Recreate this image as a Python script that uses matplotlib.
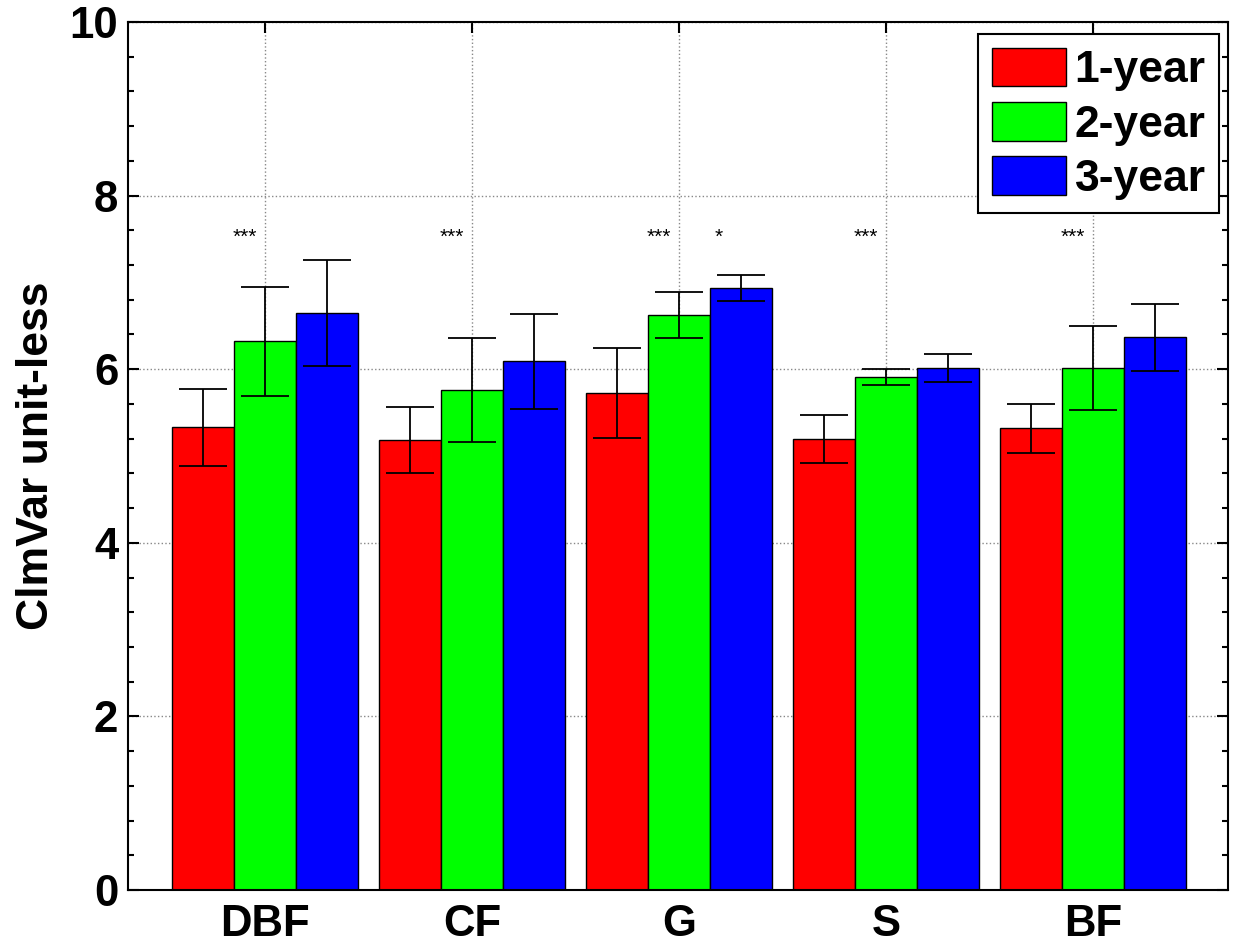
import numpy as np
from matplotlib import pyplot as plt
from matplotlib.ticker import MultipleLocator

plt.rcParams['font.family'] = ['Liberation Sans', 'DejaVu Sans']

groups = ['DBF', 'CF', 'G', 'S', 'BF']
series = ['1-year', '2-year', '3-year']
colors = ['#ff0000', '#00ff00', '#0000ff']

one_year = [5.33, 5.18, 5.73, 5.20, 5.32]
two_year = [6.32, 5.76, 6.63, 5.91, 6.01]
three_year = [6.65, 6.09, 6.94, 6.01, 6.37]

one_err = [0.44, 0.38, 0.52, 0.275, 0.28]
two_err = [0.63, 0.60, 0.265, 0.09, 0.485]
three_err = [0.61, 0.55, 0.15, 0.16, 0.385]

# significance marks per group: (between 1- and 2-year, between 2- and 3-year)
stars = [('***', ''), ('***', ''), ('***', '*'), ('***', ''), ('***', '')]

fig = plt.figure(figsize=(12.38, 9.49), dpi=100)
ax = fig.add_axes([0.1034, 0.0622, 0.8886, 0.9146])

x = np.arange(1, len(groups) + 1)
w = 0.3
vals = [one_year, two_year, three_year]
errs = [one_err, two_err, three_err]
for k in range(3):
    ax.bar(x + (k - 1) * w, vals[k], w, color=colors[k], edgecolor='black',
           linewidth=1.0, label=series[k], zorder=2)
    ax.errorbar(x + (k - 1) * w, vals[k], yerr=errs[k], fmt='none', ecolor='black',
                elinewidth=1.3, capsize=17, capthick=1.3, zorder=3)

for i, (s1, s2) in enumerate(stars):
    ax.text(x[i] - 0.1, 7.46, s1, ha='center', va='baseline', fontsize=15)
    if s2:
        ax.text(x[i] + 0.19, 7.46, s2, ha='center', va='baseline', fontsize=15)

ax.set_xlim(0.338, 5.652)
ax.set_ylim(0, 10)
ax.set_xticks(x)
ax.set_xticklabels(groups)
ax.set_yticks([0, 2, 4, 6, 8, 10])
ax.yaxis.set_minor_locator(MultipleLocator(0.4))
ax.tick_params(axis='both', which='both', direction='in', top=True, right=True,
               labelsize=31.5, width=1.5)
ax.tick_params(axis='both', which='major', length=8)
ax.tick_params(axis='y', which='major', pad=7)
ax.tick_params(axis='x', which='major', pad=10)
ax.tick_params(axis='y', which='minor', length=4)
for lab in ax.get_xticklabels() + ax.get_yticklabels():
    lab.set_fontweight('bold')
ax.grid(True, linestyle=':', color='#888888', linewidth=1.0, zorder=0)
ax.set_axisbelow(True)
for sp in ax.spines.values():
    sp.set_linewidth(1.5)

ax.set_ylabel('ClmVar unit-less', fontsize=32, fontweight='bold', labelpad=9)

leg = ax.legend(loc='upper right', bbox_to_anchor=(0.9918, 0.986), borderaxespad=0,
                prop={'weight': 'bold', 'size': 32}, handlelength=1.67, handleheight=0.97,
                labelspacing=0.24, handletextpad=0.2, borderpad=0.3, fancybox=False,
                framealpha=1, edgecolor='black')
leg.get_frame().set_linewidth(1.5)

plt.savefig('out.png')
